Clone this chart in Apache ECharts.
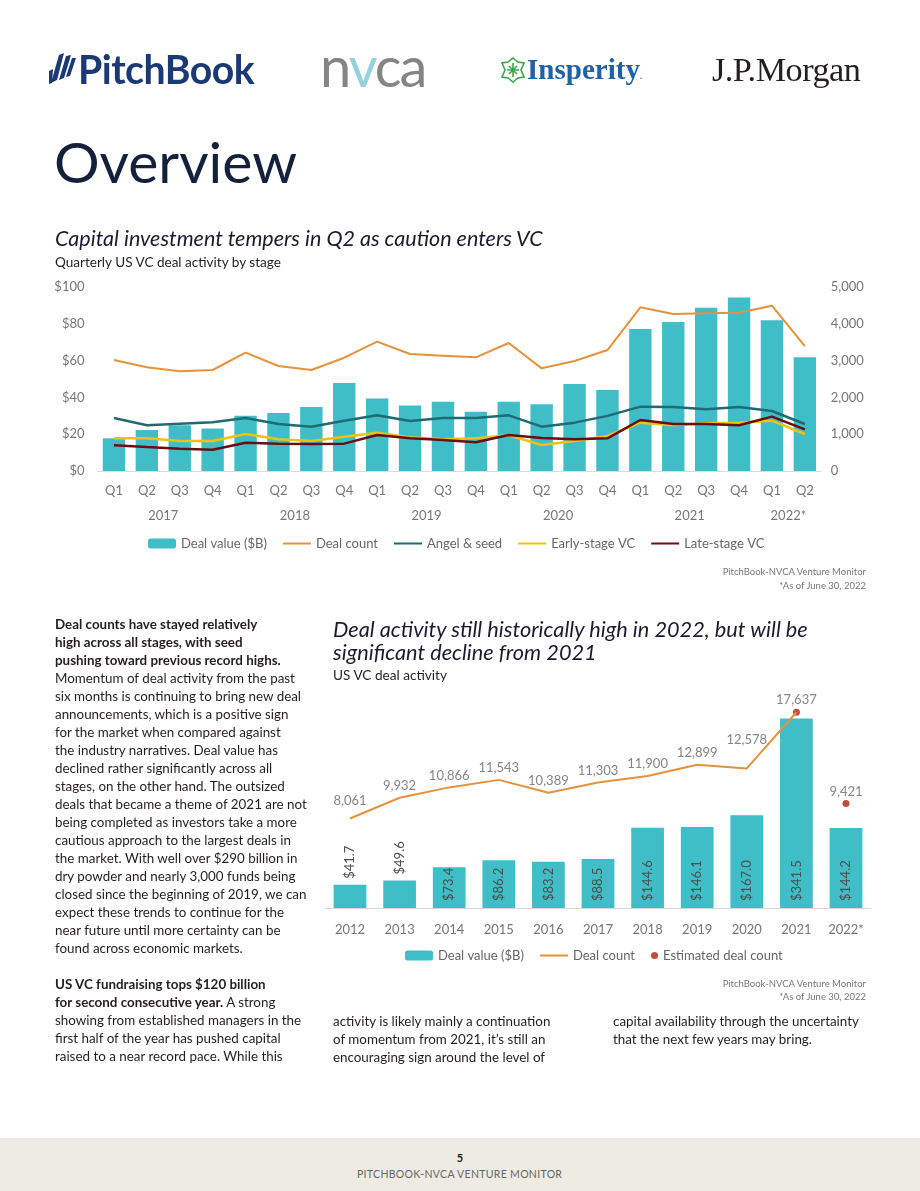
<!DOCTYPE html>
<html>
<head>
<meta charset="utf-8">
<script src="https://cdn.jsdelivr.net/npm/echarts@6/dist/echarts.min.js"></script>
<style>
html,body{margin:0;padding:0;background:#fff;}
#page{position:relative;width:920px;height:1191px;overflow:hidden;font-family:Lato,'Noto Sans',sans-serif;color:#231f20;}
#chart{position:absolute;left:0;top:0;width:920px;height:1191px;}
.one{position:absolute;white-space:nowrap;line-height:0;}
.blk{position:absolute;white-space:nowrap;line-height:18px;font-size:13px;}
.blk b{font-weight:700;}
#footer{position:absolute;left:0;top:1138px;width:920px;height:53px;background:#eeebe3;}
</style>
</head>
<body>
<div id="page">
  <div id="chart"></div>

  <!-- logos -->
  <svg style="position:absolute;left:49px;top:53px" width="28" height="31" viewBox="0 0 28 31">
    <path d="M10 2 L15 0 L8 27 L2 30 Z" fill="#1b3a73"/>
    <path d="M17 3 L22 2 L15 25 L10 27 Z" fill="#1b3a73"/>
    <path d="M23 5 L27 5 L21 23 L17 24 Z" fill="#1b3a73"/>
    <path d="M0 18 L4 16 L3 30 L0 31 Z" fill="#1b3a73"/>
  </svg>
  <div class="one fit" data-w="176" style="left:78px;top:69px;font-family:Lato;font-weight:700;font-size:37px;color:#1b3a73;letter-spacing:-0.5px;">PitchBook</div>
  <div class="one fit" data-w="105" style="left:320px;top:66px;font-family:Lato;font-weight:400;font-size:54px;color:#858585;letter-spacing:-2px;">n<span style="color:#92d2da">v</span>ca</div>
  <svg style="position:absolute;left:501px;top:57px" width="24" height="26" viewBox="0 0 24 26">
    <g fill="none" stroke="#3aa64a" stroke-width="1.6">
      <path d="M12 1 L17 5 L23 6 L20 13 L23 20 L17 21 L12 25 L7 21 L1 20 L4 13 L1 6 L7 5 Z"/>
      <path d="M12 6 L12 20 M6 13 L18 13 M8 9 L16 17 M16 9 L8 17"/>
    </g>
  </svg>
  <div class="one fit" data-w="115" style="left:527px;top:69px;font-family:'Liberation Serif',serif;font-weight:700;font-size:29px;color:#2161a8;">Insperity<span style="font-size:8px;">.</span></div>
  <div class="one fit" data-w="148" style="left:712px;top:70px;font-family:'Liberation Serif',serif;font-size:32px;color:#231f20;letter-spacing:-0.5px;">J.P.Morgan</div>

  <!-- headings -->
  <div class="one fit" data-w="243" style="left:54px;top:161px;font-size:57px;color:#14213d;">Overview</div>
  <div class="one fit" data-w="488" style="left:55px;top:238px;font-size:20px;font-style:italic;color:#1b1b2f;">Capital investment tempers in Q2 as caution enters VC</div>
  <div class="one fit" data-w="226" style="left:55px;top:262px;font-size:13px;color:#231f20;">Quarterly US VC deal activity by stage</div>
  <div class="one" style="right:54px;top:572px;font-size:9.5px;color:#777;">PitchBook-NVCA Venture Monitor</div>
  <div class="one" style="right:54px;top:586px;font-size:9.5px;color:#777;">*As of June 30, 2022</div>

  <div class="one fit" data-w="475" id="t2a" style="left:333px;top:629px;font-size:20px;font-style:italic;color:#1b1b2f;">Deal activity still historically high in 2022, but will be</div>
  <div class="one" id="t2b" style="left:333px;top:652px;font-size:20px;font-style:italic;color:#1b1b2f;">significant decline from 2021</div>
  <div class="one fit" data-w="114" style="left:333px;top:675px;font-size:13px;color:#231f20;">US VC deal activity</div>
  <div class="one" style="right:54px;top:984px;font-size:9.5px;color:#777;">PitchBook-NVCA Venture Monitor</div>
  <div class="one" style="right:54px;top:997px;font-size:9.5px;color:#777;">*As of June 30, 2022</div>

  <!-- body text -->
  <div class="blk" id="colL" style="left:55px;top:614.5px;">
    <b>Deal counts have stayed relatively<br>high across all stages, with seed<br>pushing toward previous record highs.</b><br><span id="refLine">Momentum of deal activity from the past</span><br>six months is continuing to bring new deal<br>announcements, which is a positive sign<br>for the market when compared against<br>the industry narratives. Deal value has<br>declined rather significantly across all<br>stages, on the other hand. The outsized<br>deals that became a theme of 2021 are not<br>being completed as investors take a more<br>cautious approach to the largest deals in<br>the market. With well over $290 billion in<br>dry powder and nearly 3,000 funds being<br>closed since the beginning of 2019, we can<br>expect these trends to continue for the<br>near future until more certainty can be<br>found across economic markets.<br><br><b>US VC fundraising tops $120 billion<br>for second consecutive year.</b> A strong<br>showing from established managers in the<br>first half of the year has pushed capital<br>raised to a near record pace. While this
  </div>
  <div class="blk" id="colM" style="left:333px;top:1011.5px;">activity is likely mainly a continuation<br>of momentum from 2021, it’s still an<br>encouraging sign around the level of</div>
  <div class="blk" id="colR" style="left:613px;top:1011.5px;">capital availability through the uncertainty<br>that the next few years may bring.</div>

  <div id="footer"></div>
  <div class="one" style="left:0;width:920px;text-align:center;top:1158px;font-size:11px;font-weight:700;color:#231f20;">5</div>
  <div class="one fit" data-w="206" id="foot" style="left:357px;top:1174px;font-size:10px;color:#666;letter-spacing:0.3px;">PITCHBOOK-NVCA VENTURE MONITOR</div>
</div>

<script>
// ---------- Chart 1 data: quarterly US VC deal activity by stage ----------
const quarterLabels = ['Q1','Q2','Q3','Q4','Q1','Q2','Q3','Q4','Q1','Q2','Q3','Q4','Q1','Q2','Q3','Q4','Q1','Q2','Q3','Q4','Q1','Q2'];
const quarterYears  = ['2017','2017','2017','2017','2018','2018','2018','2018','2019','2019','2019','2019','2020','2020','2020','2020','2021','2021','2021','2021','2022*','2022*'];
const dealValueQ    = [17.8, 22.3, 24.9, 23.2, 30.1, 31.6, 34.8, 47.9, 39.4, 35.6, 37.7, 32.3, 37.7, 36.3, 47.4, 44.1, 77.3, 81.1, 88.9, 94.4, 82.0, 61.9];
const dealCountQ    = [3021, 2822, 2713, 2749, 3220, 2858, 2749, 3084, 3520, 3185, 3139, 3094, 3484, 2794, 2994, 3293, 4455, 4273, 4292, 4310, 4500, 3402];
const angelSeedQ    = [1443, 1243, 1288, 1325, 1443, 1279, 1206, 1370, 1515, 1361, 1443, 1443, 1515, 1206, 1316, 1500, 1751, 1742, 1679, 1742, 1633, 1279];
const earlyStageQ   = [890, 890, 817, 817, 1007, 862, 817, 935, 1043, 917, 862, 890, 972, 708, 817, 953, 1316, 1243, 1297, 1316, 1370, 1007];
const lateStageQ    = [699, 653, 608, 580, 771, 744, 735, 744, 980, 890, 844, 781, 980, 898, 862, 890, 1388, 1279, 1279, 1243, 1479, 1134];
const leftTicks  = {min: 0, max: 100, step: 20};
const rightTicks = {min: 0, max: 5000, step: 1000};

// ---------- Chart 2 data: annual US VC deal activity ----------
const years            = ['2012','2013','2014','2015','2016','2017','2018','2019','2020','2021','2022*'];
const annualDealValue  = [41.7, 49.6, 73.4, 86.2, 83.2, 88.5, 144.6, 146.1, 167.0, 341.5, 144.2];
const annualDealCount  = [8061, 9932, 10866, 11543, 10389, 11303, 11900, 12899, 12578, 17637, null];
const estimatedCount   = [null, null, null, null, null, null, null, null, null, 17637, 9421];

// label lift (style) for a few crowded count labels
const countLabelDistance = {'2012': 11, '2020': 22};

const C = {
  teal: '#40bec8', orange: '#e8913b', angel: '#1f6b74', early: '#f0c20f', late: '#6b0d14', est: '#b3200e',
  axis: '#767676', legend: '#666666', barLabel: '#4d4d4d'
};
const FONT = 'Lato';

function fitAll() {
  document.querySelectorAll('.fit').forEach(el => {
    const target = parseFloat(el.dataset.w);
    const fs = parseFloat(getComputedStyle(el).fontSize);
    const w = el.getBoundingClientRect().width;
    if (w > 0) el.style.fontSize = (fs * target / w).toFixed(2) + 'px';
  });
  document.getElementById('t2b').style.fontSize = document.getElementById('t2a').style.fontSize;
  const ref = document.getElementById('refLine');
  const w = ref.getBoundingClientRect().width;
  const fs = 13 * 240 / w;
  ['colL','colM','colR'].forEach(id => document.getElementById(id).style.fontSize = fs.toFixed(2) + 'px');
}

function build() {
  fitAll();
  const groups = {};
  quarterYears.forEach((y, i) => { (groups[y] = groups[y] || []).push(i + 0.5); });
  const yearAt = {};
  Object.keys(groups).forEach(y => { const a = groups[y]; yearAt[(a[0] + a[a.length - 1]) / 2] = y; });

  const fmtNum = v => Number(v).toLocaleString('en-US');
  const labelValues = years.map((_, i) => annualDealCount[i] != null ? annualDealCount[i] : estimatedCount[i]);

  const chart = echarts.init(document.getElementById('chart'), null, {renderer: 'canvas'});
  const axisLabelBase = {color: C.axis, fontSize: 13, fontFamily: FONT};
  const noSymbol = {color: 'rgba(0,0,0,0)', borderColor: 'rgba(0,0,0,0)', borderWidth: 0};
  const lineItem = name => ({name: name, itemStyle: noSymbol});
  const legendBase = {
    padding: 0, itemWidth: 28, itemHeight: 10, itemGap: 15, selectedMode: false,
    textStyle: {color: C.legend, fontSize: 13, fontFamily: FONT}
  };

  chart.setOption({
    animation: false,
    textStyle: {fontFamily: FONT},
    grid: [
      {left: 97.5, top: 287.3, width: 723.8, height: 183.7},
      {left: 325.2, top: 686, width: 545.6, height: 222}
    ],
    legend: [
      Object.assign({}, legendBase, {
        data: ['Deal value ($B)', lineItem('Deal count'), lineItem('Angel & seed'), lineItem('Early-stage VC'), lineItem('Late-stage VC')],
        left: 148, top: 537
      }),
      Object.assign({}, legendBase, {
        data: ['Deal value ($B)', lineItem('Deal count')],
        left: 405, top: 949
      }),
      Object.assign({}, legendBase, {
        data: ['Estimated deal count'],
        left: 651, top: 949, itemWidth: 7, itemHeight: 7
      })
    ],
    xAxis: [
      {
        type: 'category', gridIndex: 0, data: quarterLabels,
        axisLine: {lineStyle: {color: '#e6d8d4', width: 1}}, axisTick: {show: false},
        axisLabel: Object.assign({margin: 13, interval: 0}, axisLabelBase)
      },
      {
        type: 'value', gridIndex: 0, position: 'bottom', offset: 25,
        min: 0, max: quarterLabels.length, interval: 1,
        axisLine: {show: false}, axisTick: {show: false}, splitLine: {show: false},
        axisLabel: Object.assign({margin: 13, formatter: v => yearAt[v] || ''}, axisLabelBase)
      },
      {
        type: 'category', gridIndex: 1, data: years,
        axisLine: {lineStyle: {color: '#d9d9d9', width: 1}}, axisTick: {show: false},
        axisLabel: Object.assign({margin: 15, interval: 0}, axisLabelBase)
      }
    ],
    yAxis: [
      {
        type: 'value', gridIndex: 0, min: leftTicks.min, max: leftTicks.max, interval: leftTicks.step,
        splitLine: {show: false}, axisLine: {show: false}, axisTick: {show: false},
        axisLabel: Object.assign({margin: 13, formatter: v => '$' + v}, axisLabelBase)
      },
      {
        type: 'value', gridIndex: 0, position: 'right', min: rightTicks.min, max: rightTicks.max, interval: rightTicks.step,
        splitLine: {show: false}, axisLine: {show: false}, axisTick: {show: false},
        axisLabel: Object.assign({margin: 9.5, formatter: fmtNum}, axisLabelBase)
      },
      {type: 'value', gridIndex: 1, min: 0, max: 400, show: false},
      {type: 'value', gridIndex: 1, min: 0, max: 20000, show: false}
    ],
    series: [
      {name: 'Deal value ($B)', type: 'bar', xAxisIndex: 0, yAxisIndex: 0, data: dealValueQ,
        itemStyle: {color: C.teal}, barCategoryGap: '32%'},
      {name: 'Deal count', type: 'line', xAxisIndex: 0, yAxisIndex: 1, data: dealCountQ, symbol: 'none',
        itemStyle: {color: C.orange}, lineStyle: {color: C.orange, width: 2}},
      {name: 'Angel & seed', type: 'line', xAxisIndex: 0, yAxisIndex: 1, data: angelSeedQ, symbol: 'none',
        itemStyle: {color: C.angel}, lineStyle: {color: C.angel, width: 2.5}},
      {name: 'Early-stage VC', type: 'line', xAxisIndex: 0, yAxisIndex: 1, data: earlyStageQ, symbol: 'none',
        itemStyle: {color: C.early}, lineStyle: {color: C.early, width: 2.5}},
      {name: 'Late-stage VC', type: 'line', xAxisIndex: 0, yAxisIndex: 1, data: lateStageQ, symbol: 'none',
        itemStyle: {color: C.late}, lineStyle: {color: C.late, width: 2.5}},

      {name: 'Deal value ($B)', type: 'bar', xAxisIndex: 2, yAxisIndex: 2, barCategoryGap: '34%',
        itemStyle: {color: C.teal},
        label: {show: true, rotate: 90, align: 'left', verticalAlign: 'middle', position: 'insideBottom', distance: 7,
          color: C.barLabel, fontSize: 13, fontFamily: FONT, formatter: p => '$' + Number(p.value).toFixed(1)},
        data: annualDealValue.map(v => v < 60 ? {value: v, label: {position: 'top', distance: 6}} : v)},
      {name: 'Deal count', type: 'line', xAxisIndex: 2, yAxisIndex: 3, data: annualDealCount, symbol: 'none',
        itemStyle: {color: C.orange}, lineStyle: {color: C.orange, width: 2}},
      {name: 'Estimated deal count', type: 'scatter', xAxisIndex: 2, yAxisIndex: 3, data: estimatedCount,
        symbol: 'circle', symbolSize: 7, itemStyle: {color: C.est}},
      {name: 'countLabels', type: 'scatter', xAxisIndex: 2, yAxisIndex: 3, symbolSize: 1, silent: true,
        itemStyle: {color: 'transparent'},
        label: {show: true, position: 'top', distance: 5, color: '#666', fontSize: 13, fontFamily: FONT,
          formatter: p => fmtNum(p.value)},
        data: labelValues.map((v, i) => countLabelDistance[years[i]] != null
          ? {value: v, label: {distance: countLabelDistance[years[i]]}} : v)}
    ]
  });
}

if (document.fonts && document.fonts.ready) {
  document.fonts.ready.then(build);
} else {
  build();
}
</script>
</body>
</html>
